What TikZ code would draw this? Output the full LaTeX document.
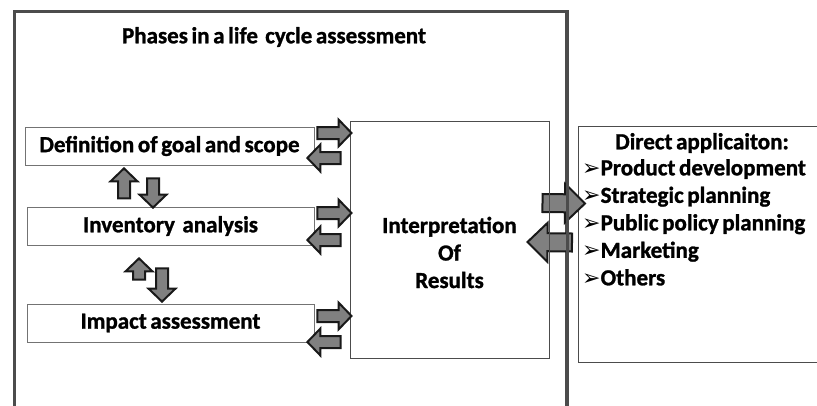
\documentclass[tikz,border=0pt]{standalone}
\usepackage{fontspec}
\setmainfont{Carlito}[WordSpace=0.7, BoldFeatures={FakeBold=1.2}]
\newfontfamily\dingfont{DejaVu Sans}
\usetikzlibrary{calc,positioning}

\newcommand{\lcafont}{\fontsize{23}{27.5}\selectfont\bfseries}
\newcommand{\bul}{{\dingfont\fontsize{22}{27.5}\selectfont ➢}}

\tikzset{
  phasebox/.style={draw=black!55, line width=0.8pt, minimum height=38pt, inner sep=0pt, font=\lcafont},
  bigbox/.style={draw=black!70, line width=1pt, inner sep=0pt},
  % block arrow between two points: shaft half width, head half width, head length
  fat/.style n args={3}{draw=black!90, fill=black!50, line width=2pt, line join=miter,
    to path={let \p1=(\tikztostart), \p2=(\tikztotarget) in
      ($(\p1)!#1!90:(\p2)$) -- ($(\p2)!#3!(\p1)!#1!90:(\p2)$)
      -- ($(\p2)!#3!(\p1)!#2!90:(\p2)$) -- (\p2)
      -- ($(\p2)!#3!(\p1)!#2!-90:(\p2)$) -- ($(\p2)!#3!(\p1)!#1!-90:(\p2)$)
      -- ($(\p1)!#1!-90:(\p2)$) -- cycle}},
  thinarrow/.style={fat={6pt}{13.5pt}{13pt}},
  widearrow/.style={fat={9pt}{19.5pt}{20pt}}
}

\begin{document}
\begin{tikzpicture}[x=1pt, y=-1pt]
    \useasboundingbox (0,0) rectangle (817,405);
    \clip (0,0) rectangle (817,405);

    % frame round the phases
    \node[draw=black!70, line width=2.5pt, minimum width=552pt, minimum height=430pt,
          anchor=north west, inner sep=0pt] (phases) at (13,10) {};
    \node[font=\lcafont] (title) at (274,37) {Phases in a life\ \ cycle assessment};

    \node[phasebox, minimum width=289pt] (def) at (169.5,146) {Definition of goal and scope};
    \node[phasebox, minimum width=287pt] (inv) at (170.5,226) {Inventory\ \,analysis};
    \node[phasebox, minimum width=287pt] (imp) at (170.5,323) {Impact assessment};

    \node[bigbox, minimum width=199pt, minimum height=237pt] (interp) at (449.5,239.5) {};
    \node[font=\lcafont, align=center] (interptext) at ($(interp.center)+(0,13)$)
        {Interpretation\\Of\\Results};

    % applications box, runs off the right edge
    \node[bigbox, anchor=north west, minimum width=250pt, minimum height=236pt] (apps) at (578,126) {};
    \node[font=\lcafont] (appshead) at (702,143) {Direct applicaiton:};
    \node[font=\lcafont, align=left, anchor=north west, inner sep=0pt] (applist) at (582,159)
        {\bul Product development\\ \bul Strategic planning\\ \bul Public policy planning\\
         \bul Marketing\\ \bul Others};

    % phases <-> interpretation
    \draw[thinarrow] ($(def.east)+(3,-13)$) to ($(def.east -| interp.west)+(2,-13)$);
    \draw[thinarrow] ($(def.east -| interp.west)+(-9,12)$) to ($(def.east)+(-7,12)$);
    \draw[thinarrow] ($(inv.east)+(3,-13)$) to ($(inv.east -| interp.west)+(2,-13)$);
    \draw[thinarrow] ($(inv.east -| interp.west)+(-9,14)$) to ($(inv.east)+(-7,14)$);
    \draw[thinarrow] ($(imp.east)+(3,-7)$) to ($(imp.east -| interp.west)+(2,-7)$);
    \draw[thinarrow] ($(imp.east -| interp.west)+(-9,19)$) to ($(imp.east)+(-7,19)$);

    % between the phases
    \draw[thinarrow] ($(def.south)+(-45.5,33)$) to ($(def.south)+(-45.5,3)$);
    \draw[thinarrow] ($(def.south)+(-16.5,13)$) to ($(inv.north)+(-17.5,1)$);
    \draw[thinarrow] ($(imp.north)+(-31.5,-24)$) to ($(inv.south)+(-31.5,13)$);
    \draw[thinarrow] ($(inv.south)+(-8.5,23)$) to ($(imp.north)+(-8.5,-2)$);

    % interpretation <-> applications
    \draw[widearrow] ($(interp.east)+(-7,-36.5)$) to ($(apps.west)+(7,-41)$);
    \draw[widearrow] ($(apps.west)+(-6,-2)$) to ($(interp.east)+(-22,2.5)$);
    \draw[draw=black!70, line width=1pt] (interp.north east) -- (interp.south east);
    \draw[draw=black!70, line width=2.5pt] (phases.north east) -- (phases.south east);
\end{tikzpicture}
\end{document}
